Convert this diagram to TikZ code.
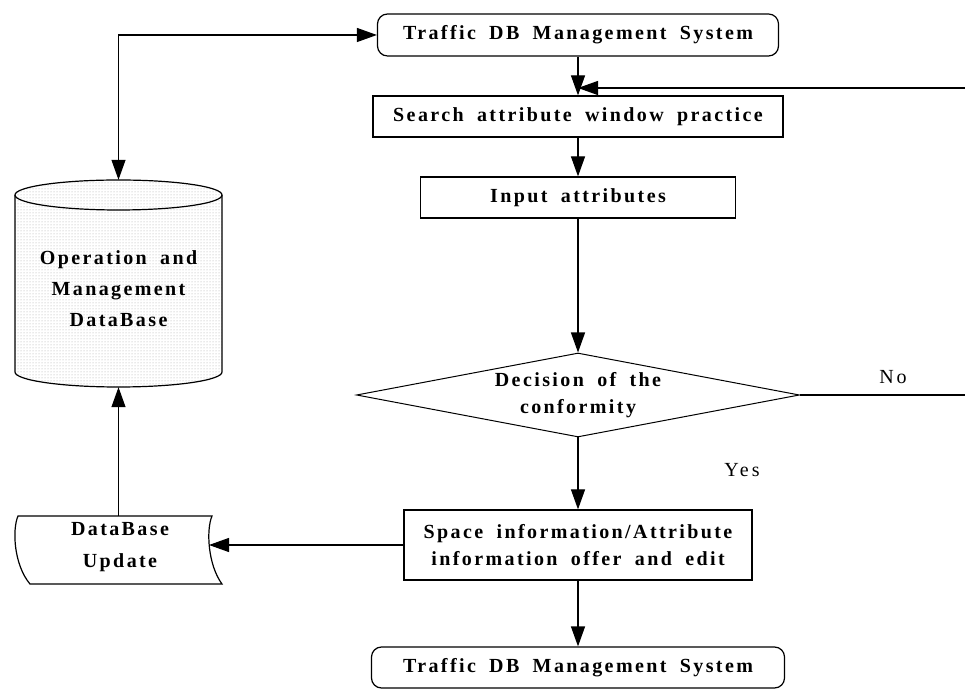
\documentclass[tikz,border=0pt]{standalone}
\usepackage{fontspec}
\setmainfont{Liberation Serif}
\newfontfamily\spaced[LetterSpace=12,WordSpace=1.8]{Liberation Serif}
\newfontfamily\spacedreg[LetterSpace=15]{Liberation Serif}
\usetikzlibrary{arrows.meta,shapes.geometric,patterns}
\begin{document}
\begin{tikzpicture}[x=1pt,y=1pt,
  every node/.style={inner sep=0pt},
  lbl/.style={font=\spaced\bfseries\fontsize{20}{27}\selectfont, align=center},
  reg/.style={font=\spacedreg\fontsize{20}{22}\selectfont},
  box/.style={draw, line width=1.2pt, minimum width=#1},
  rbox/.style={draw, line width=1.2pt, rounded corners=10pt, minimum width=#1},
  arr/.style={line width=1.2pt, -{Triangle[length=20pt,width=14pt]}},
  ln/.style={line width=1.2pt}
]
\useasboundingbox (0,0) rectangle (965,690);

% main flow
\node[rbox=401pt, minimum height=42pt] (T1) at (578,655) {};
\node[lbl] at (T1) {Traffic DB Management System};
\node[box=410pt, minimum height=41pt] (S) at (578,573.5) {};
\node[lbl] at (S) {Search attribute window practice};
\node[box=315pt, minimum height=41pt] (I) at (578,492.5) {};
\node[lbl] at (I) {Input attributes};
\node[diamond, draw, line width=1pt, minimum width=443pt, minimum height=84pt] (D) at (578,295) {};
\node[lbl] at (D) {Decision of the\\conformity};
\node[box=348pt, minimum height=70pt] (P) at (578,145) {};
\node[lbl] at (P) {Space information/Attribute\\information offer and edit};
\node[rbox=413pt, minimum height=41pt] (T2) at (578,22.5) {};
\node[lbl] at (T2) {Traffic DB Management System};

% cylinder database
\node[minimum width=207pt, minimum height=207pt] (C) at (118.5,406.5) {};
\path[pattern=dots, pattern color=black!35]
  (15,495) -- (15,318) arc[start angle=180, end angle=360, x radius=103.5, y radius=15]
  -- (222,495) arc[start angle=0, end angle=180, x radius=103.5, y radius=15] -- cycle;
\draw[line width=1.2pt] (15,495) -- (15,318) arc[start angle=180, end angle=360, x radius=103.5, y radius=15]
  -- (222,495);
\draw[line width=1.2pt] (118.5,495) ellipse[x radius=103.5, y radius=15];
\node[lbl, font=\spaced\bfseries\fontsize{20}{31}\selectfont] at (118.5,401) {Operation and\\Management\\DataBase};

% database update shape
\node[minimum width=204pt, minimum height=68pt] (U) at (120,140) {};
\draw[line width=1.2pt] (18,174) -- (212,174)
  .. controls (206,160) and (208,125) .. (222,106) -- (30,106)
  .. controls (14,125) and (12,160) .. (18,174) -- cycle;
\node[lbl, font=\spaced\bfseries\fontsize{20}{32}\selectfont] at (120,143) {DataBase\\Update};
\coordinate (Ue) at (209,145);

% right side free ends
\coordinate (FB) at (965,602);
\coordinate (NE) at (965,295);

% connectors
\draw[arr] (T1) -- (S);
\draw[arr] (S) -- (I);
\draw[arr] (I) -- (D.north);
\draw[arr] (D.south) -- (P.north);
\node[reg] (yes) at (742,220) {Yes};
\draw[arr] (P) -- (T2);
\draw[arr] (FB) -- (T1.south |- FB);
\draw[ln] (D.east) -- (NE);
\node[reg] (no) at (893,313) {No};
\draw[arr] (P.west |- Ue) -- (Ue);
\draw[arr] (C.south |- U.north) -- (C.south);
\draw[line width=1.2pt, {Triangle[length=20pt,width=14pt]}-{Triangle[length=20pt,width=14pt]}]
  (C.north) -- (C.north |- T1.west) -- (T1.west);
\end{tikzpicture}
\end{document}
